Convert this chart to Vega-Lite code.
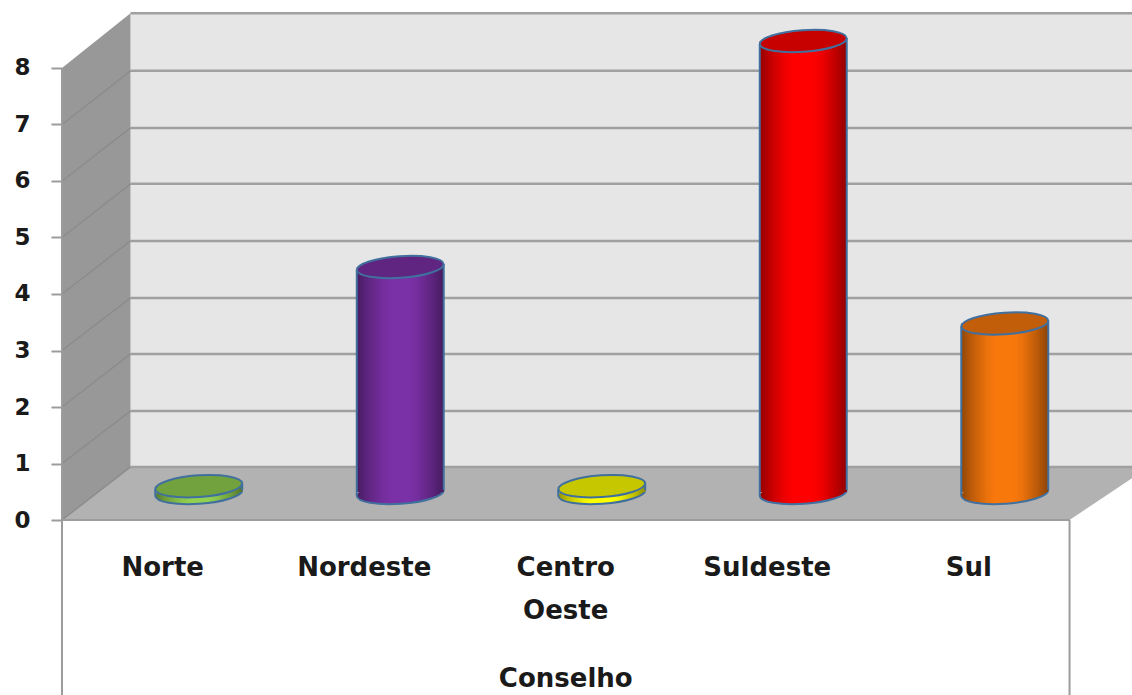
{
  "$schema": "https://vega.github.io/schema/vega-lite/v6.json",
  "width": 1070,
  "height": 695,
  "padding": {"left": 62, "top": 0, "right": 0, "bottom": 0},
  "autosize": "none",
  "background": "white",
  "config": {"view": {"stroke": null}},
  "datasets": {
    "paredeFundo": [{"x": 0.34, "v": 8.97, "v0": 0.94}, {"x": 5.31, "v": 8.97, "v0": 0.94}],
    "paredeLateral": [{"x": 0, "v": 8, "v0": 0}, {"x": 0.34, "v": 8.97, "v0": 0.94}],
    "piso": [
      {"x": 0, "v": 0, "v0": 0},
      {"x": 0.34, "v": 0.94, "v0": 0},
      {"x": 5, "v": 0.94, "v0": 0},
      {"x": 5.31, "v": 0.94, "v0": 0.74}
    ],
    "grade": [
      {"n": 0, "x": 0.34, "v": 0.94}, {"n": 0, "x": 5.31, "v": 0.94},
      {"n": 1, "x": 0.34, "v": 1.93}, {"n": 1, "x": 5.31, "v": 1.93},
      {"n": 2, "x": 0.34, "v": 2.94}, {"n": 2, "x": 5.31, "v": 2.94},
      {"n": 3, "x": 0.34, "v": 3.93}, {"n": 3, "x": 5.31, "v": 3.93},
      {"n": 4, "x": 0.34, "v": 4.94}, {"n": 4, "x": 5.31, "v": 4.94},
      {"n": 5, "x": 0.34, "v": 5.95}, {"n": 5, "x": 5.31, "v": 5.95},
      {"n": 6, "x": 0.34, "v": 6.94}, {"n": 6, "x": 5.31, "v": 6.94},
      {"n": 7, "x": 0.34, "v": 7.95}, {"n": 7, "x": 5.31, "v": 7.95},
      {"n": 8, "x": 0.34, "v": 8.97}, {"n": 8, "x": 5.31, "v": 8.97}
    ],
    "diagonais": [
      {"n": 0, "x": 0, "v": 0}, {"n": 0, "x": 0.34, "v": 0.94},
      {"n": 1, "x": 0, "v": 1}, {"n": 1, "x": 0.34, "v": 1.93},
      {"n": 2, "x": 0, "v": 2}, {"n": 2, "x": 0.34, "v": 2.94},
      {"n": 3, "x": 0, "v": 3}, {"n": 3, "x": 0.34, "v": 3.93},
      {"n": 4, "x": 0, "v": 4}, {"n": 4, "x": 0.34, "v": 4.94},
      {"n": 5, "x": 0, "v": 5}, {"n": 5, "x": 0.34, "v": 5.95},
      {"n": 6, "x": 0, "v": 6}, {"n": 6, "x": 0.34, "v": 6.94},
      {"n": 7, "x": 0, "v": 7}, {"n": 7, "x": 0.34, "v": 7.95}
    ],
    "moldura": [
      {"n": "esquerda", "x": 0, "v": 8}, {"n": "esquerda", "x": 0, "v": -3.1},
      {"n": "direita", "x": 5, "v": 0}, {"n": "direita", "x": 5, "v": -3.1},
      {"n": "base", "x": 0, "v": 0}, {"n": "base", "x": 5, "v": 0}
    ],
    "regioes": [
      {"regiao": "Norte", "v": 0.12},
      {"regiao": "Nordeste", "v": 4},
      {"regiao": "Centro\nOeste", "v": 0.12},
      {"regiao": "Suldeste", "v": 8},
      {"regiao": "Sul", "v": 3}
    ],
    "titulo": [{"rotulo": "Conselho", "x": 2.5, "v": -2.81}]
  },
  "encoding": {
    "y": {
      "field": "v",
      "type": "quantitative",
      "stack": null,
      "scale": {"domain": [-3.0973, 9.2035], "nice": false, "zero": false},
      "axis": null
    }
  },
  "layer": [
    {
      "encoding": {
        "x": {"field": "x", "type": "quantitative", "scale": {"domain": [0, 5.31], "nice": false, "zero": false}, "axis": null}
      },
      "resolve": {"axis": {"y": "independent"}},
      "layer": [
        {
          "data": {"name": "paredeFundo"},
          "mark": {"type": "area", "orient": "vertical", "fill": "#e6e6e6"},
          "encoding": {"y2": {"field": "v0"}}
        },
        {
          "data": {"name": "paredeLateral"},
          "mark": {"type": "area", "orient": "vertical", "fill": "#989898"},
          "encoding": {"y2": {"field": "v0"}}
        },
        {
          "data": {"name": "piso"},
          "mark": {"type": "area", "orient": "vertical", "fill": "#b2b2b2"},
          "encoding": {"y2": {"field": "v0"}}
        },
        {
          "data": {"name": "grade"},
          "mark": {"type": "line", "stroke": "#a0a0a0", "strokeWidth": 2.5},
          "encoding": {"detail": {"field": "n"}}
        },
        {
          "data": {"name": "diagonais"},
          "mark": {"type": "line", "stroke": "#8c8c8c", "strokeWidth": 1.5},
          "encoding": {"detail": {"field": "n"}}
        },
        {
          "data": {"name": "moldura"},
          "mark": {"type": "line", "stroke": "#9c9c9c", "strokeWidth": 2},
          "encoding": {
            "detail": {"field": "n"},
            "y": {
              "field": "v",
              "type": "quantitative",
              "stack": null,
              "axis": {
                "values": [0, 1, 2, 3, 4, 5, 6, 7, 8],
                "grid": false,
                "domain": false,
                "tickColor": "#9c9c9c",
                "tickWidth": 2,
                "tickSize": 11,
                "labelPadding": 21,
                "labelFont": "DejaVu Sans",
                "labelFontWeight": "bold",
                "labelFontSize": 23,
                "labelColor": "#1a1a1a",
                "title": null
              }
            }
          }
        },
        {
          "data": {"name": "titulo"},
          "mark": {"type": "text", "font": "DejaVu Sans", "fontWeight": "bold", "fontSize": 26, "color": "#1a1a1a", "baseline": "middle"},
          "encoding": {"text": {"field": "rotulo"}}
        }
      ]
    },
    {
      "data": {"name": "regioes"},
      "encoding": {
        "x": {
          "field": "regiao",
          "type": "nominal",
          "sort": null,
          "scale": {"range": [0, 1007.5], "paddingInner": 0, "paddingOuter": 0},
          "axis": null
        }
      },
      "layer": [
        {
          "mark": {
            "type": "point",
            "filled": true,
            "opacity": 1,
            "size": 7569,
            "xOffset": 36,
            "yOffset": -27,
            "shape": "M0.9976,-0.0698 C1.0072,0.0679,0.5685,0.2108,0.0175,0.2494 C-0.5335,0.2880,-0.9880,0.2075,-0.9976,0.0698 C-1.0072,-0.0679,-0.5685,-0.2108,-0.0175,-0.2494 C0.5335,-0.2880,0.9880,-0.2075,0.9976,-0.0698 Z"
          },
          "encoding": {
            "y": {"datum": 0, "type": "quantitative"},
            "fill": {"field": "regiao", "type": "nominal", "sort": null, "legend": null, "scale": {"range": ["#92d050", "#7a30a6", "#ffff00", "#ff0000", "#f9780c"]}}
          }
        },
        {
          "mark": {
            "type": "point",
            "filled": true,
            "opacity": 1,
            "size": 7569,
            "xOffset": 36,
            "yOffset": -27,
            "fill": {"gradient": "linear", "x1": 0, "y1": 0, "x2": 1, "y2": 0, "stops": [{"offset": 0, "color": "rgba(0,0,0,0.42)"}, {"offset": 0.12, "color": "rgba(0,0,0,0.24)"}, {"offset": 0.3, "color": "rgba(0,0,0,0.05)"}, {"offset": 0.4, "color": "rgba(0,0,0,0)"}, {"offset": 0.6, "color": "rgba(0,0,0,0)"}, {"offset": 0.7, "color": "rgba(0,0,0,0.05)"}, {"offset": 0.88, "color": "rgba(0,0,0,0.26)"}, {"offset": 1, "color": "rgba(0,0,0,0.44)"}]},
            "shape": "M0.9976,-0.0698 C1.0072,0.0679,0.5685,0.2108,0.0175,0.2494 C-0.5335,0.2880,-0.9880,0.2075,-0.9976,0.0698 C-1.0072,-0.0679,-0.5685,-0.2108,-0.0175,-0.2494 C0.5335,-0.2880,0.9880,-0.2075,0.9976,-0.0698 Z"
          },
          "encoding": {"y": {"datum": 0, "type": "quantitative"}}
        },
        {
          "mark": {
            "type": "point",
            "filled": false,
            "opacity": 1,
            "size": 7569,
            "xOffset": 36,
            "yOffset": -27,
            "stroke": "#41709f",
            "strokeWidth": 2,
            "shape": "M0.9976,-0.0698 C1.0072,0.0679,0.5685,0.2108,0.0175,0.2494 C-0.5335,0.2880,-0.9880,0.2075,-0.9976,0.0698"
          },
          "encoding": {"y": {"datum": 0, "type": "quantitative"}}
        },
        {
          "mark": {"type": "bar", "width": 87, "xOffset": 36, "yOffset": -27, "y2Offset": -28},
          "encoding": {
            "y2": {"datum": 0},
            "fill": {"field": "regiao", "type": "nominal", "sort": null, "legend": null, "scale": {"range": ["#92d050", "#7a30a6", "#ffff00", "#ff0000", "#f9780c"]}}
          }
        },
        {
          "mark": {
            "type": "bar",
            "width": 87,
            "xOffset": 36,
            "yOffset": -27,
            "y2Offset": -28,
            "fill": {"gradient": "linear", "x1": 0, "y1": 0, "x2": 1, "y2": 0, "stops": [{"offset": 0, "color": "rgba(0,0,0,0.42)"}, {"offset": 0.12, "color": "rgba(0,0,0,0.24)"}, {"offset": 0.3, "color": "rgba(0,0,0,0.05)"}, {"offset": 0.4, "color": "rgba(0,0,0,0)"}, {"offset": 0.6, "color": "rgba(0,0,0,0)"}, {"offset": 0.7, "color": "rgba(0,0,0,0.05)"}, {"offset": 0.88, "color": "rgba(0,0,0,0.26)"}, {"offset": 1, "color": "rgba(0,0,0,0.44)"}]}
          },
          "encoding": {"y2": {"datum": 0}}
        },
        {
          "mark": {"type": "rule", "xOffset": -7.5, "yOffset": -24, "y2Offset": -24, "stroke": "#41709f", "strokeWidth": 2},
          "encoding": {"y2": {"datum": 0}}
        },
        {
          "mark": {"type": "rule", "xOffset": 79.5, "yOffset": -30, "y2Offset": -30, "stroke": "#41709f", "strokeWidth": 2},
          "encoding": {"y2": {"datum": 0}}
        },
        {
          "mark": {
            "type": "point",
            "filled": true,
            "opacity": 1,
            "size": 7569,
            "xOffset": 36,
            "yOffset": -27,
            "shape": "M0.9976,-0.0698 C1.0072,0.0679,0.5685,0.2108,0.0175,0.2494 C-0.5335,0.2880,-0.9880,0.2075,-0.9976,0.0698 C-1.0072,-0.0679,-0.5685,-0.2108,-0.0175,-0.2494 C0.5335,-0.2880,0.9880,-0.2075,0.9976,-0.0698 Z"
          },
          "encoding": {
            "fill": {"field": "regiao", "type": "nominal", "sort": null, "legend": null, "scale": {"range": ["#92d050", "#7a30a6", "#ffff00", "#ff0000", "#f9780c"]}}
          }
        },
        {
          "mark": {
            "type": "point",
            "filled": true,
            "opacity": 1,
            "fill": "#000000",
            "fillOpacity": 0.22,
            "size": 7569,
            "xOffset": 36,
            "yOffset": -27,
            "stroke": "#41709f",
            "strokeWidth": 2,
            "shape": "M0.9976,-0.0698 C1.0072,0.0679,0.5685,0.2108,0.0175,0.2494 C-0.5335,0.2880,-0.9880,0.2075,-0.9976,0.0698 C-1.0072,-0.0679,-0.5685,-0.2108,-0.0175,-0.2494 C0.5335,-0.2880,0.9880,-0.2075,0.9976,-0.0698 Z"
          }
        },
        {
          "mark": {"type": "text", "font": "DejaVu Sans", "fontWeight": "bold", "fontSize": 26, "color": "#1a1a1a", "baseline": "top", "lineBreak": "\n", "lineHeight": 43},
          "encoding": {
            "y": {"datum": -0.62, "type": "quantitative"},
            "text": {"field": "regiao"}
          }
        }
      ]
    }
  ],
  "resolve": {"scale": {"x": "independent"}, "axis": {"y": "independent"}}
}
